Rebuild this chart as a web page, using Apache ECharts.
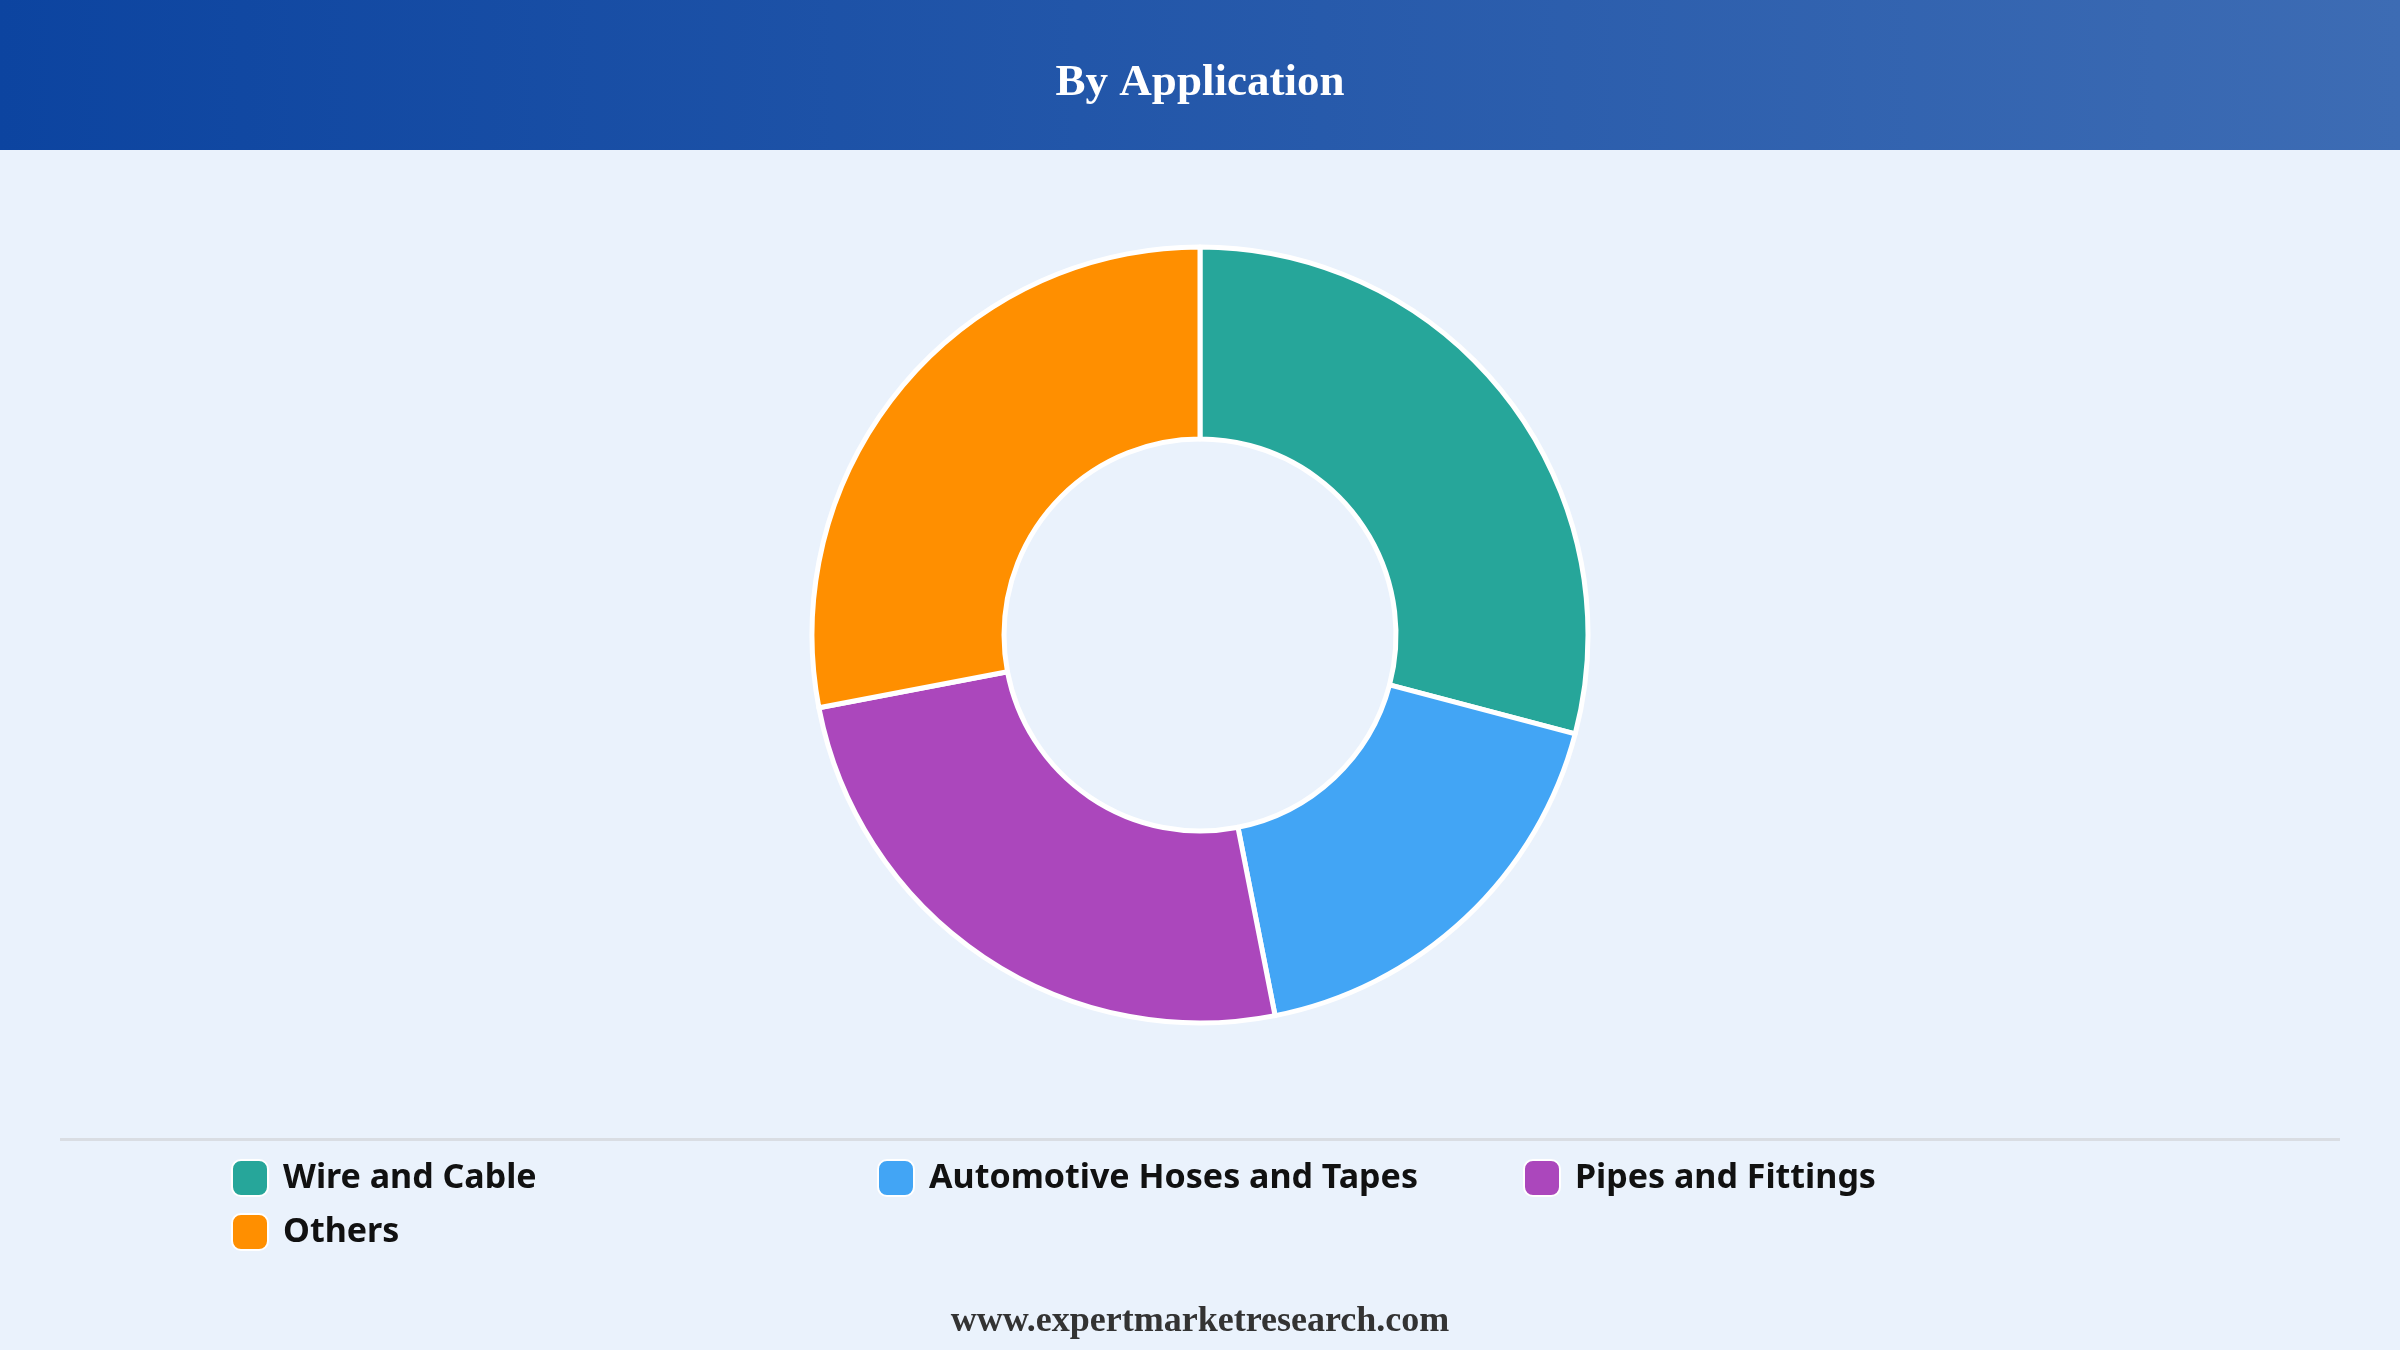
<!DOCTYPE html>
<html>
<head>
<meta charset="utf-8">
<script src="https://cdn.jsdelivr.net/npm/echarts@6/dist/echarts.min.js"></script>
<style>
html,body{margin:0;padding:0;background:#EAF2FC;}
#c{width:2400px;height:1350px;}
</style>
</head>
<body>
<div id="c"></div>
<script>
const title = 'By Application';
const categories = ['Wire and Cable', 'Automotive Hoses and Tapes', 'Pipes and Fittings', 'Others'];
const values = [29.1, 17.8, 25.1, 28.0];
const colors = ['#26A69A', '#42A5F5', '#AB47BC', '#FF8F00'];
const footer = 'www.expertmarketresearch.com';

const chart = echarts.init(document.getElementById('c'), null, {renderer: 'canvas'});
chart.setOption({
  backgroundColor: '#EAF2FC',
  animation: false,
  graphic: [
    {
      type: 'rect', left: 0, top: 0, z: 0,
      shape: {width: 2400, height: 150},
      style: {
        fill: new echarts.graphic.LinearGradient(0, 0, 1, 0, [
          {offset: 0, color: '#0C44A0'},
          {offset: 1, color: '#3D6CB4'}
        ])
      }
    },
    {
      type: 'text', left: 'center', top: 61, z: 2,
      style: {
        text: title, fill: '#FFFFFF',
        font: 'bold 45px "Liberation Serif", "Times New Roman", serif'
      }
    },
    {
      type: 'rect', left: 60, top: 1138, z: 1,
      shape: {width: 2280, height: 3},
      style: {fill: '#D9DDE3'}
    },
    {
      type: 'text', left: 'center', top: 1304, z: 2,
      style: {
        text: footer, fill: '#333333',
        font: 'bold 36px "Liberation Serif", "Times New Roman", serif'
      }
    }
  ],
  legend: {
    data: categories,
    left: 226, top: 1146, width: 2000,
    padding: 5,
    orient: 'horizontal',
    itemWidth: 36, itemHeight: 36, itemGap: 0,
    icon: 'roundRect',
    selectedMode: false,
    textStyle: {
      color: '#111111',
      fontFamily: '"Noto Sans", "Open Sans", sans-serif',
      fontWeight: 'bold', fontSize: 34,
      width: 594, lineHeight: 54,
      padding: [0, 0, 0, 10]
    }
  },
  series: [{
    type: 'pie',
    center: [1200, 635],
    radius: [196, 388],
    startAngle: 90,
    clockwise: true,
    label: {show: false},
    labelLine: {show: false},
    emphasis: {disabled: true},
    itemStyle: {borderColor: '#FFFFFF', borderWidth: 5},
    data: categories.map((n, i) => ({name: n, value: values[i], itemStyle: {color: colors[i]}}))
  }]
});
</script>
</body>
</html>
